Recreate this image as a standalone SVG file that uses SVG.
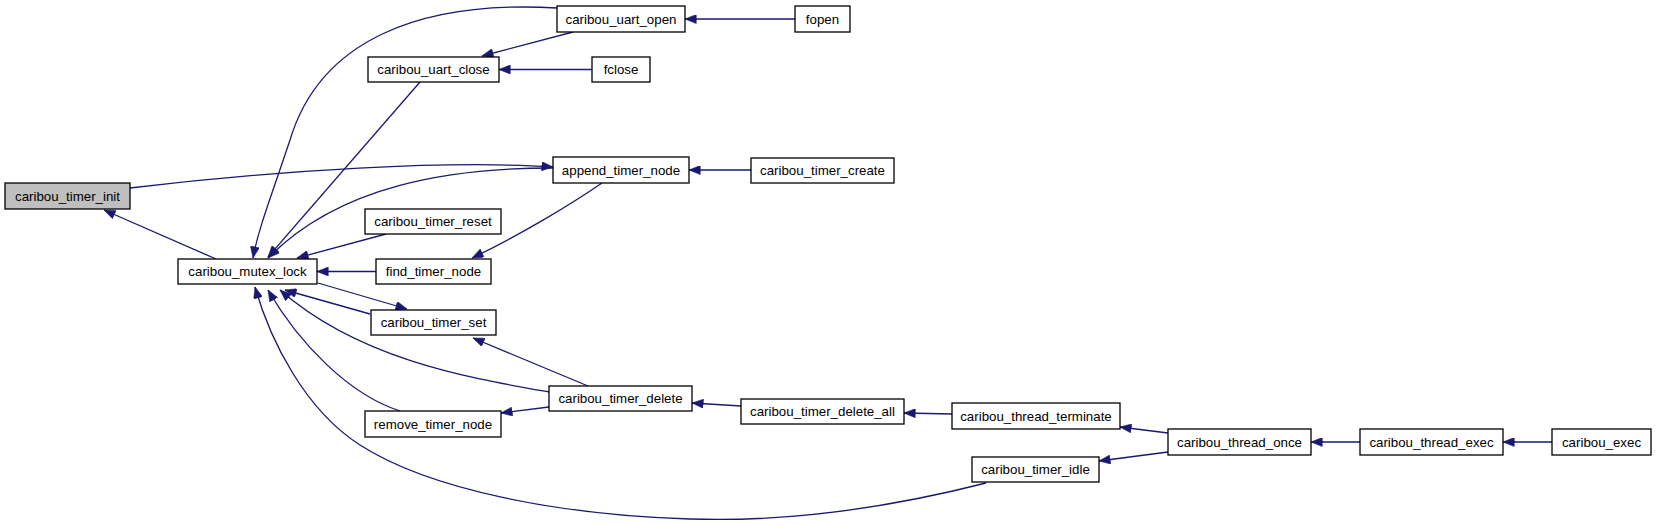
<svg xmlns="http://www.w3.org/2000/svg" width="1656" height="525" viewBox="0 0 1656 525">
<style>
.n rect{fill:#ffffff;stroke:#000000;stroke-width:1.3}
.n.root rect{fill:#bfbfbf}
.n text{font-family:"Liberation Sans",Arial,sans-serif;font-size:13.3px;fill:#000000;text-anchor:middle}
.e path{fill:none;stroke:#191970;stroke-width:1.3;marker-end:url(#ah)}
</style>
<defs>
<marker id="ah" viewBox="0 0 10 8" refX="10" refY="4" markerWidth="12" markerHeight="9" markerUnits="userSpaceOnUse" orient="auto">
<path d="M0,0 L10,4 L0,8 z" fill="#191970" stroke="#191970" stroke-width="0.5"/>
</marker>
</defs>
<rect width="1656" height="525" fill="#ffffff"/>
<g id="connectors" class="e">
<path d="M216,259 L104,210"/>
<path d="M130,188 C280,170 450,160 553,167"/>
<path d="M553,168 C450,168 340,185 268,258"/>
<path d="M557,8 C420,0 320,40 290,140 C270,200 258,230 253,258"/>
<path d="M420,82 L268,257"/>
<path d="M573,32 L482,56"/>
<path d="M592,69.5 L499,69.5"/>
<path d="M795,19 L685,19"/>
<path d="M751,170 L689,170"/>
<path d="M386,234 L297,258"/>
<path d="M376,271.5 L317,271.5"/>
<path d="M602,183 C570,205 520,235 472,258"/>
<path d="M318,283 L407,309"/>
<path d="M370,314 L285,290"/>
<path d="M588,386 L473,338"/>
<path d="M549,392 C470,378 360,360 280,290"/>
<path d="M549,407 L501,413"/>
<path d="M400,411 C350,395 300,345 268,290"/>
<path d="M986,483 C880,510 780,522 690,519 C560,515 430,490 360,445 C305,410 270,340 255,287"/>
<path d="M741,406 L692,403"/>
<path d="M952,414 L904,413"/>
<path d="M1168,433 L1120,427"/>
<path d="M1168,452 L1099,461"/>
<path d="M1360,442 L1311,442"/>
<path d="M1552,442 L1503,442"/>
</g>
<g id="caribou_timer_init" class="n root"><rect x="5" y="183" width="125" height="26"/><text x="67.5" y="200.5">caribou_timer_init</text></g>
<g id="caribou_mutex_lock" class="n"><rect x="178" y="259" width="139" height="25"/><text x="247.5" y="276">caribou_mutex_lock</text></g>
<g id="caribou_uart_open" class="n"><rect x="557" y="6" width="128" height="26"/><text x="621" y="23.5">caribou_uart_open</text></g>
<g id="fopen" class="n"><rect x="795" y="6" width="55" height="26"/><text x="822.5" y="23.5">fopen</text></g>
<g id="caribou_uart_close" class="n"><rect x="368" y="57" width="131" height="25"/><text x="433.5" y="74">caribou_uart_close</text></g>
<g id="fclose" class="n"><rect x="592" y="57" width="58" height="25"/><text x="621" y="74">fclose</text></g>
<g id="append_timer_node" class="n"><rect x="553" y="157" width="136" height="26"/><text x="621" y="174.5">append_timer_node</text></g>
<g id="caribou_timer_create" class="n"><rect x="751" y="158" width="143" height="25"/><text x="822.5" y="175">caribou_timer_create</text></g>
<g id="caribou_timer_reset" class="n"><rect x="365" y="209" width="136" height="25"/><text x="433" y="226">caribou_timer_reset</text></g>
<g id="find_timer_node" class="n"><rect x="376" y="259" width="115" height="25"/><text x="433.5" y="276">find_timer_node</text></g>
<g id="caribou_timer_set" class="n"><rect x="371" y="310" width="125" height="25"/><text x="433.5" y="327">caribou_timer_set</text></g>
<g id="remove_timer_node" class="n"><rect x="365" y="411" width="136" height="26"/><text x="433" y="428.5">remove_timer_node</text></g>
<g id="caribou_timer_delete" class="n"><rect x="549" y="386" width="143" height="25"/><text x="620.5" y="403">caribou_timer_delete</text></g>
<g id="caribou_timer_delete_all" class="n"><rect x="741" y="399" width="163" height="25"/><text x="822.5" y="416">caribou_timer_delete_all</text></g>
<g id="caribou_thread_terminate" class="n"><rect x="952" y="403" width="168" height="26"/><text x="1036" y="420.5">caribou_thread_terminate</text></g>
<g id="caribou_timer_idle" class="n"><rect x="972" y="457" width="127" height="25"/><text x="1035.5" y="474">caribou_timer_idle</text></g>
<g id="caribou_thread_once" class="n"><rect x="1168" y="429" width="143" height="26"/><text x="1239.5" y="446.5">caribou_thread_once</text></g>
<g id="caribou_thread_exec" class="n"><rect x="1360" y="429" width="143" height="26"/><text x="1431.5" y="446.5">caribou_thread_exec</text></g>
<g id="caribou_exec" class="n"><rect x="1552" y="429" width="99" height="26"/><text x="1601.5" y="446.5">caribou_exec</text></g>
</svg>
